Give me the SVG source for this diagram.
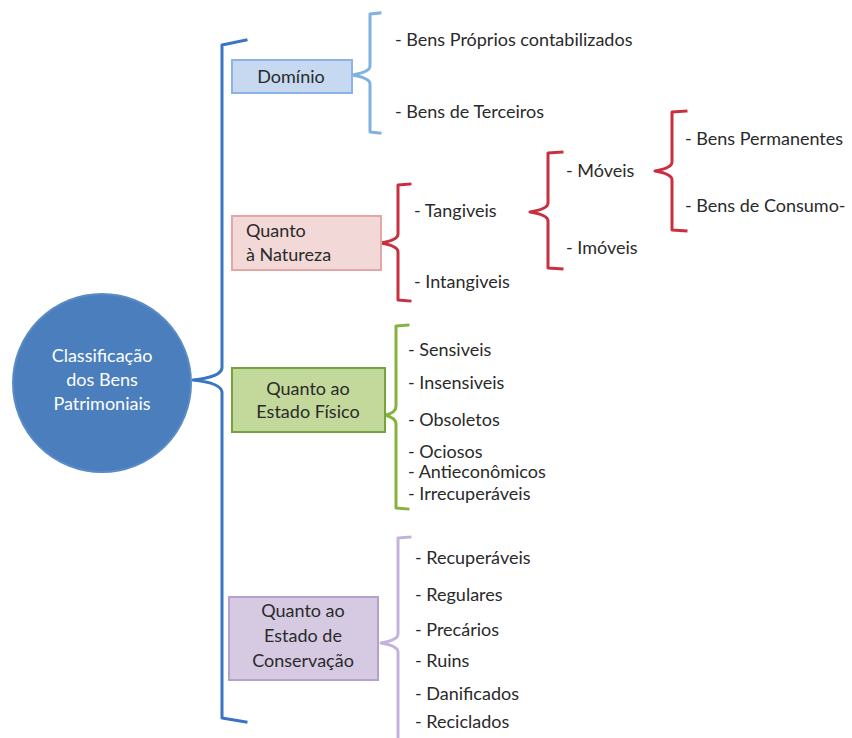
<svg xmlns="http://www.w3.org/2000/svg" width="852" height="738" viewBox="0 0 852 738">
<style>
text{font-family:Lato,"Open Sans","Liberation Sans",sans-serif;font-size:18px;fill:#2a2a2a;}
.c{text-anchor:middle}
.w{fill:#fff}
.br{fill:none;stroke-width:3;stroke-linejoin:round;stroke-linecap:square}
</style>
<rect width="852" height="738" fill="#fff"/>
<g id="connectors">
<path class="br" stroke="#3a74c2" stroke-width="5" d="M246,40 L222,45 L222,368 Q221,377 193,380 Q221,383 222,392 L222,718 L246,722"/>
<path class="br" stroke="#7fb2e3" d="M380,13 L370,14 L370,66 Q370,72 352,75 Q370,78 370,84 L370,132 L380,133"/>
<path class="br" stroke="#c8303f" d="M410,184 L398,185 L398,234 Q398,240 381,243 Q398,246 398,252 L398,300 L410,301"/>
<path class="br" stroke="#c8303f" d="M562,152 L548,153 L548,203 Q548,209 530,212 Q548,215 548,221 L548,268 L562,269"/>
<path class="br" stroke="#c8303f" d="M686,111 L672,112 L672,162 Q672,168 655,171 Q672,174 672,180 L672,230 L686,231"/>
<path class="br" stroke="#86b33e" d="M408,325 L396,326 L396,406 Q396,413 385,415 Q396,418 396,424 L396,508 L408,509"/>
<path class="br" stroke="#c3b3da" d="M410,537 L398,538 L398,634 Q398,640 381,643 Q398,646 398,652 L398,740"/>
</g>
<g id="root">
<circle cx="102" cy="383" r="89" fill="#4a7ebd" stroke="#5a8bc6" stroke-width="2"/>
<text class="c w" x="102" y="362">Classificação</text>
<text class="c w" x="102" y="386">dos Bens</text>
<text class="c w" x="102" y="410">Patrimoniais</text>
</g>
<g id="dominio">
<rect x="232" y="60" width="120" height="33" fill="#c6d9f0" stroke="#8db3e2" stroke-width="2"/>
<text class="c" x="291" y="83">Domínio</text>
</g>
<g id="dominio-items">
<text x="395" y="46">- Bens Próprios contabilizados</text>
<text x="395" y="118">- Bens de Terceiros</text>
</g>
<g id="natureza">
<rect x="232" y="216" width="149" height="54" fill="#f2d8d7" stroke="#e4a7a5" stroke-width="2"/>
<text x="246" y="237">Quanto</text>
<text x="246" y="261">à Natureza</text>
</g>
<g id="natureza-items">
<text x="414" y="217">- Tangiveis</text>
<text x="414" y="288">- Intangiveis</text>
<text x="566" y="177">- Móveis</text>
<text x="566" y="254">- Imóveis</text>
<text x="685" y="145">- Bens Permanentes</text>
<text x="685" y="212">- Bens de Consumo-</text>
</g>
<g id="fisico">
<rect x="232" y="368" width="153" height="64" fill="#c3d99c" stroke="#77a33c" stroke-width="2"/>
<text class="c" x="308" y="395">Quanto ao</text>
<text class="c" x="308" y="418">Estado Físico</text>
</g>
<g id="fisico-items">
<text x="408" y="356">- Sensiveis</text>
<text x="408" y="389">- Insensiveis</text>
<text x="408" y="426">- Obsoletos</text>
<text x="408" y="458">- Ociosos</text>
<text x="408" y="478">- Antieconômicos</text>
<text x="408" y="500">- Irrecuperáveis</text>
</g>
<g id="conservacao">
<rect x="229" y="597" width="149" height="83" fill="#d6cae3" stroke="#b4a2cd" stroke-width="2"/>
<text class="c" x="303" y="617">Quanto ao</text>
<text class="c" x="303" y="642">Estado de</text>
<text class="c" x="303" y="667">Conservação</text>
</g>
<g id="conservacao-items">
<text x="415" y="564">- Recuperáveis</text>
<text x="415" y="601">- Regulares</text>
<text x="415" y="636">- Precários</text>
<text x="415" y="667">- Ruins</text>
<text x="415" y="700">- Danificados</text>
<text x="415" y="728">- Reciclados</text>
</g>
</svg>
